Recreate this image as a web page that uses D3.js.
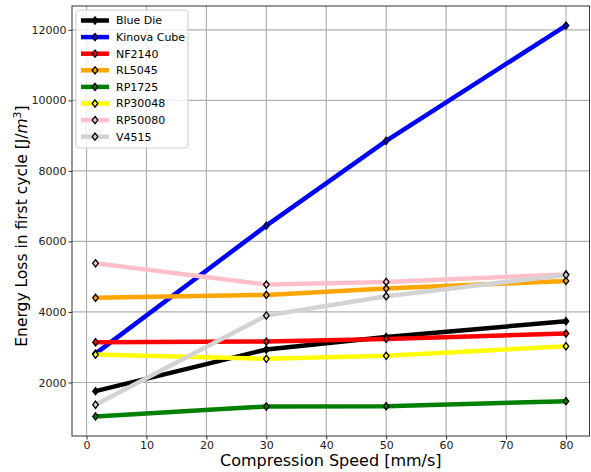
<!DOCTYPE html>
<html>
<head>
<meta charset="utf-8">
<script src="https://cdn.jsdelivr.net/npm/d3@7"></script>
<style>
  body { margin: 0; background: #fff; }
  text { font-family: "DejaVu Sans", sans-serif; }
</style>
</head>
<body>
<div id="chart"></div>
<script>
// compression speeds (mm/s)
var speeds = [1.5, 30, 50, 80];

// series names + colors
var names = ["Blue Die", "Kinova Cube", "NF2140", "RL5045", "RP1725", "RP30048", "RP50080", "V4515"];
var colors = ["black", "blue", "red", "orange", "green", "yellow", "pink", "lightgray"];

// energy loss per series, one value per speed
var blueDie    = [1754, 2935, 3290, 3737];
var kinovaCube = [2820, 6448, 8853, 12122];
var nf2140     = [3142, 3161, 3235, 3388];
var rl5045     = [4400, 4484, 4663, 4881];
var rp1725     = [1037, 1320, 1329, 1470];
var rp30048    = [2793, 2671, 2756, 3028];
var rp50080    = [5380, 4776, 4853, 5065];
var v4515      = [1368, 3898, 4445, 5050];

var xTicks = [0, 10, 20, 30, 40, 50, 60, 70, 80];
var yTicks = [2000, 4000, 6000, 8000, 10000, 12000];

var allSeries = [blueDie, kinovaCube, nf2140, rl5045, rp1725, rp30048, rp50080, v4515];
var series = names.map(function (n, i) {
    return { name: n, color: colors[i], values: allSeries[i] };
});

var width = 591, height = 472;
var margin = { top: 6, right: 1.5, bottom: 36, left: 72 };
var w = width - margin.left - margin.right;
var h = height - margin.top - margin.bottom;

var svg = d3.select("#chart").append("svg")
    .attr("width", width)
    .attr("height", height);

var g = svg.append("g")
    .attr("transform", "translate(" + margin.left + "," + margin.top + ")");

// matplotlib-like 5% margins
var xMin = d3.min(speeds), xMax = d3.max(speeds);
var xPad = (xMax - xMin) * 0.05;
var yMin = d3.min(allSeries, s => d3.min(s)), yMax = d3.max(allSeries, s => d3.max(s));
var yPad = (yMax - yMin) * 0.05;

var x = d3.scaleLinear().domain([xMin - xPad, xMax + xPad]).range([0, w]);
var y = d3.scaleLinear().domain([yMin - yPad, yMax + yPad]).range([h, 0]);

// grid
g.append("g").selectAll("line").data(xTicks).enter().append("line")
    .attr("x1", d => x(d)).attr("x2", d => x(d))
    .attr("y1", 0).attr("y2", h)
    .attr("stroke", "#b0b0b0").attr("stroke-width", 1.2);
g.append("g").selectAll("line").data(yTicks).enter().append("line")
    .attr("x1", 0).attr("x2", w)
    .attr("y1", d => y(d)).attr("y2", d => y(d))
    .attr("stroke", "#b0b0b0").attr("stroke-width", 1.2);

// axes
var xAxis = g.append("g")
    .attr("transform", "translate(0," + h + ")")
    .call(d3.axisBottom(x).tickValues(xTicks).tickSize(3.5).tickPadding(2).tickSizeOuter(0));
var yAxis = g.append("g")
    .call(d3.axisLeft(y).tickValues(yTicks).tickFormat(d3.format("d")).tickSize(3.5).tickPadding(2).tickSizeOuter(0));
[xAxis, yAxis].forEach(function (a) {
    a.select(".domain").remove();
    a.selectAll("text").style("font-family", "DejaVu Sans").style("font-size", "11px").attr("fill", "#222");
    a.selectAll("line").attr("stroke", "#333");
});

// lines + markers
var line = d3.line()
    .x((d, i) => x(speeds[i]))
    .y(d => y(d));

series.forEach(function (s) {
    g.append("path")
        .datum(s.values)
        .attr("d", line)
        .attr("fill", "none")
        .attr("stroke", s.color)
        .attr("stroke-width", 4.5);
    g.selectAll(null).data(s.values).enter().append("path")
        .attr("transform", (d, i) => "translate(" + x(speeds[i]) + "," + y(d) + ")")
        .attr("d", "M0,-3.6L2.8,0L0,3.6L-2.8,0Z")
        .attr("fill", s.color)
        .attr("stroke", "black")
        .attr("stroke-width", 1.3);
});

// spines
g.append("rect")
    .attr("width", w).attr("height", h)
    .attr("fill", "none").attr("stroke", "#333").attr("stroke-width", 1);

// axis labels
svg.append("text")
    .attr("x", margin.left + w / 2)
    .attr("y", 466)
    .attr("text-anchor", "middle")
    .style("font-size", "16px")
    .text("Compression Speed [mm/s]");

var yl = svg.append("text")
    .attr("transform", "translate(27,226) rotate(-90)")
    .attr("text-anchor", "middle")
    .style("font-size", "15.5px");
yl.append("tspan").text("Energy Loss in first cycle [J/");
yl.append("tspan").style("font-style", "italic").text("m");
yl.append("tspan").attr("dy", -6).style("font-size", "11px").text("3");
yl.append("tspan").attr("dy", 6).text("]");

// legend
var lg = g.append("g").attr("transform", "translate(4,4)");
lg.append("rect")
    .attr("width", 112).attr("height", 138)
    .attr("rx", 3)
    .attr("fill", "white").attr("fill-opacity", 0.8)
    .attr("stroke", "#ccc");

var items = lg.selectAll(".legend").data(series).enter().append("g")
    .attr("class", "legend")
    .attr("transform", (d, i) => "translate(0," + (10.5 + i * 16.6) + ")");
items.append("line")
    .attr("x1", 5).attr("x2", 33)
    .attr("stroke", d => d.color).attr("stroke-width", 4.5);
items.append("path")
    .attr("transform", "translate(19,0)")
    .attr("d", "M0,-3.6L2.8,0L0,3.6L-2.8,0Z")
    .attr("fill", d => d.color)
    .attr("stroke", "black").attr("stroke-width", 1.3);
items.append("text")
    .attr("x", 40).attr("y", 0).attr("dy", "0.35em")
    .style("font-size", "11px")
    .text(d => d.name);
</script>
</body>
</html>
